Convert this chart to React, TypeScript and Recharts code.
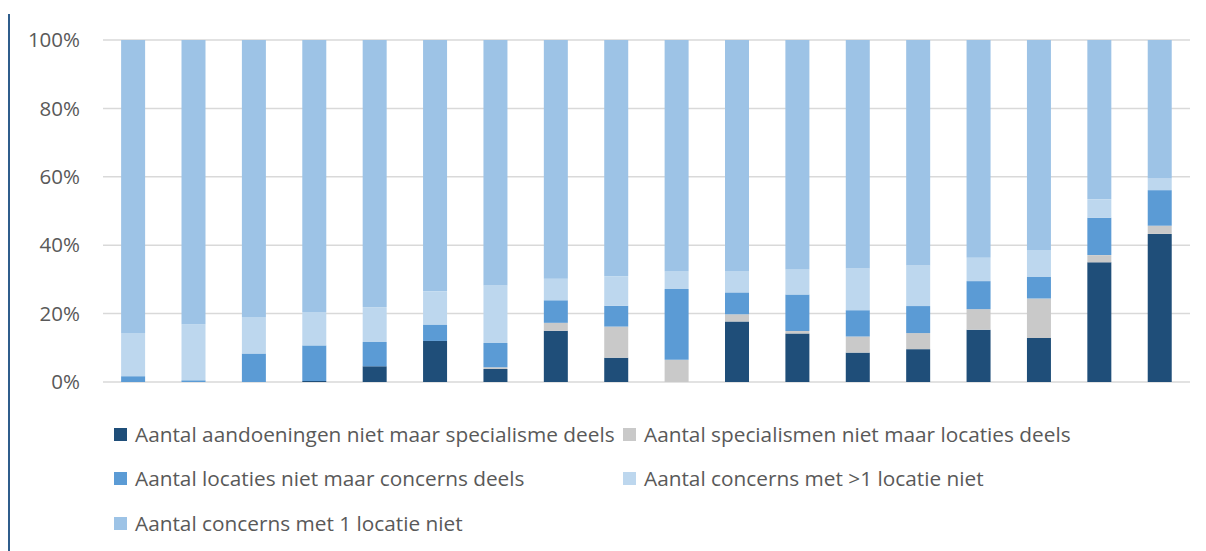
import React from 'react';
import { BarChart, Bar, XAxis, YAxis, CartesianGrid, Legend } from 'recharts';

const categories = ['1','2','3','4','5','6','7','8','9','10','11','12','13','14','15','16','17','18'];
const aandoeningen = [0, 0, 0, 0.3, 4.6, 12.0, 3.8, 15.0, 7.1, 0, 17.7, 14.2, 8.6, 9.6, 15.3, 12.9, 35.0, 43.3];
const specialismen = [0, 0, 0, 0, 0, 0, 0.5, 2.3, 9.1, 6.5, 2.1, 0.7, 4.7, 4.7, 6.0, 11.5, 2.1, 2.4];
const locaties = [1.7, 0.5, 8.3, 10.4, 7.1, 4.8, 7.1, 6.6, 6.1, 20.7, 6.4, 10.7, 7.7, 7.9, 8.2, 6.3, 10.9, 10.4];
const concernsMulti = [12.6, 16.4, 10.7, 9.8, 10.2, 9.7, 16.8, 6.3, 8.6, 5.2, 6.2, 7.4, 12.2, 11.9, 6.8, 7.9, 5.4, 3.5];
const concernsSingle = [85.7, 83.1, 81.0, 79.5, 78.1, 73.5, 71.8, 69.8, 69.1, 67.6, 67.6, 67.0, 66.8, 65.9, 63.7, 61.4, 46.6, 40.4];
const yTicks = [0, 20, 40, 60, 80, 100];

const series = [
  { key: 'aandoeningen', name: 'Aantal aandoeningen niet maar specialisme deels', color: '#1F4E79' },
  { key: 'specialismen', name: 'Aantal specialismen niet maar locaties deels', color: '#C9C9C9' },
  { key: 'locaties', name: 'Aantal locaties niet maar concerns deels', color: '#5B9BD5' },
  { key: 'concernsMulti', name: 'Aantal concerns met >1 locatie niet', color: '#BDD7EE' },
  { key: 'concernsSingle', name: 'Aantal concerns met 1 locatie niet', color: '#9DC3E6' },
];

const data = categories.map((c, i) => ({
  name: c,
  aandoeningen: aandoeningen[i],
  specialismen: specialismen[i],
  locaties: locaties[i],
  concernsMulti: concernsMulti[i],
  concernsSingle: concernsSingle[i],
}));

const FONT = '"Open Sans", Lato, sans-serif';
const TEXT = '#595959';
const FS = 20.5;
const LFS = 20.8;

const legendPos = [
  { left: 106, top: 26 },
  { left: 615, top: 26 },
  { left: 106, top: 70 },
  { left: 615, top: 70 },
  { left: 106, top: 115 },
];

const LegendContent = () => (
  <div style={{ position: 'relative', width: 1190, height: 143 }}>
    {series.map((s, i) => (
      <div
        key={s.key}
        style={{
          position: 'absolute',
          left: legendPos[i].left,
          top: legendPos[i].top - 14,
          height: 28,
          display: 'flex',
          alignItems: 'center',
          whiteSpace: 'nowrap',
          fontFamily: FONT,
          fontSize: LFS,
          color: TEXT,
        }}
      >
        <span style={{ display: 'inline-block', width: 13, height: 13, background: s.color, marginRight: 8 }} />
        <span>{s.name}</span>
      </div>
    ))}
  </div>
);

export default function App() {
  return (
    <div style={{ position: 'relative', width: 1190, height: 543 }}>
      <div style={{ position: 'absolute', left: 0, top: 6, width: 2, height: 537, background: '#2F5D8C' }} />
      <BarChart
        width={1190}
        height={543}
        data={data}
        margin={{ top: 32, right: 8, left: 0, bottom: 26 }}
        barCategoryGap="30%"
      >
        <CartesianGrid horizontal={true} vertical={false} stroke="#D9D9D9" strokeWidth={1.5} />
        <XAxis dataKey="name" hide />
        <YAxis
          width={95}
          domain={[0, 100]}
          ticks={yTicks}
          tickFormatter={(v) => `${v}%`}
          axisLine={false}
          tickLine={false}
          tickSize={0}
          tickMargin={23}
          tick={{ fill: TEXT, fontSize: FS, fontFamily: FONT }}
          interval={0}
        />
        <Legend
          verticalAlign="bottom"
          content={<LegendContent />}
          wrapperStyle={{ left: 0, width: 1190, height: 143, bottom: 0 }}
        />
        {series.map((s) => (
          <Bar key={s.key} dataKey={s.key} name={s.name} stackId="a" fill={s.color} isAnimationActive={false} />
        ))}
      </BarChart>
    </div>
  );
}
